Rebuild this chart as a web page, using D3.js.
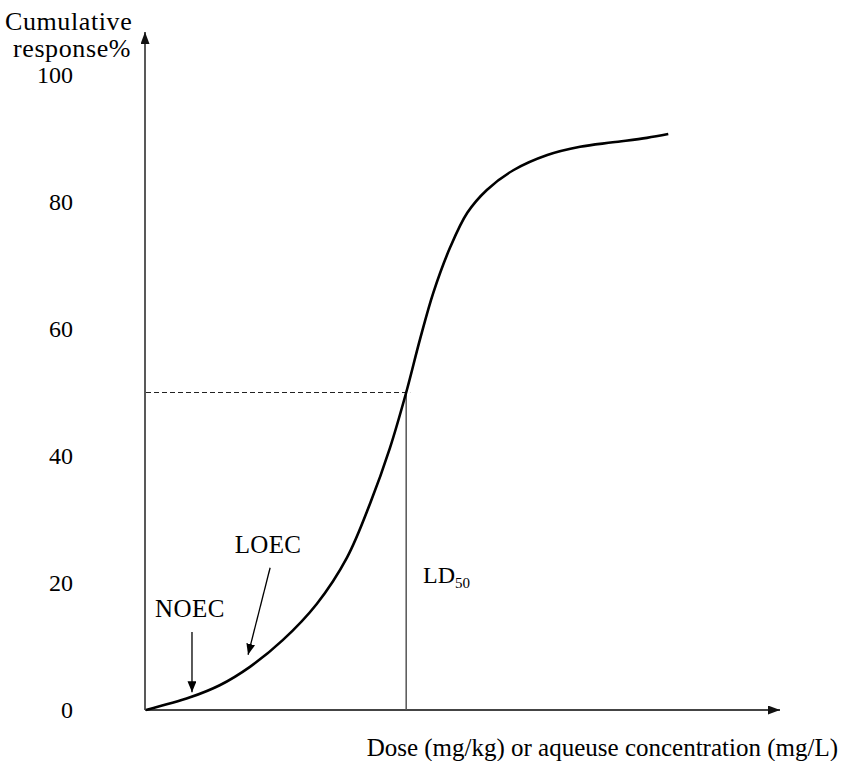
<!DOCTYPE html>
<html>
<head>
<meta charset="utf-8">
<script src="https://cdn.jsdelivr.net/npm/d3@7"></script>
<style>
  body { margin: 0; background: #fff; }
  text { font-family: "Liberation Serif", "Times New Roman", serif; fill: #000; }
</style>
</head>
<body>
<svg id="chart" width="842" height="761"></svg>
<script>
// dose-response curve (dose in arbitrary units 0-100, response in %)
var dose     = [0, 7.0, 11.7, 16.5, 21.7, 27.1, 31.9, 35.6, 38.7, 41.3, 43.5, 45.6, 48.3, 51.0, 54.1, 58.3, 63.7, 68.9, 74.1, 79.5, 82.9]
var response = [0, 2.0, 3.9, 6.8, 11.0, 16.7, 24.0, 32.6, 41.2, 50.0, 58.4, 65.7, 72.9, 78.3, 81.9, 85.0, 87.4, 88.7, 89.4, 90.1, 90.7]
var yTicks = [0, 20, 40, 60, 80, 100]

var ld50Dose = 41.3
var ld50Response = 50

// annotation arrows: [dose, response] of start and tip
var noecArrow = [[7.3, 12.3], [7.3, 2.8]]
var loecArrow = [[19.7, 22.4], [16.2, 8.7]]

var svg = d3.select("#chart")

var x = d3.scaleLinear().domain([0, 100]).range([146, 776])
var y = d3.scaleLinear().domain([0, 100]).range([710, 75])

// arrowheads
var defs = svg.append("defs")
function arrowMarker(id, len, wid, fill) {
  defs.append("marker")
    .attr("id", id)
    .attr("markerUnits", "userSpaceOnUse")
    .attr("viewBox", "0 0 " + len + " " + wid)
    .attr("markerWidth", len).attr("markerHeight", wid)
    .attr("refX", len).attr("refY", wid / 2)
    .attr("orient", "auto")
    .append("path")
    .attr("d", "M0,0L" + len + "," + (wid / 2) + "L0," + wid + "Z")
    .attr("fill", fill)
}
arrowMarker("axisHead", 12, 9, "#111")
arrowMarker("noteHead", 11, 9, "#000")

// axes with arrows
svg.append("line")
  .attr("x1", x(0) - 1).attr("y1", y(0))
  .attr("x2", 145).attr("y2", 32)
  .attr("stroke", "#222").attr("stroke-width", 1.5)
  .attr("marker-end", "url(#axisHead)")
svg.append("line")
  .attr("x1", x(0) - 1).attr("y1", y(0))
  .attr("x2", 780).attr("y2", y(0))
  .attr("stroke", "#444").attr("stroke-width", 1.8)
  .attr("marker-end", "url(#axisHead)")

// y tick labels
var yAxis = svg.append("g")
  .attr("transform", "translate(73,0)")
  .call(d3.axisLeft(y).tickValues(yTicks).tickSize(0).tickPadding(0))
yAxis.select(".domain").remove()
yAxis.selectAll("text")
  .attr("font-size", 24)
  .attr("fill", "#000")

// LD50 guide lines
svg.append("line")
  .attr("x1", x(0)).attr("y1", y(ld50Response))
  .attr("x2", x(ld50Dose) + 4).attr("y2", y(ld50Response))
  .attr("stroke", "#222").attr("stroke-width", 1)
  .attr("stroke-dasharray", "5,3")
svg.append("line")
  .attr("x1", x(ld50Dose)).attr("y1", y(ld50Response))
  .attr("x2", x(ld50Dose)).attr("y2", y(0))
  .attr("stroke", "#555").attr("stroke-width", 1.5)

// the curve
var line = d3.line()
  .x(function(d, i) { return x(dose[i]) })
  .y(function(d, i) { return y(response[i]) })
  .curve(d3.curveCatmullRom.alpha(0.5))
svg.append("path")
  .datum(dose)
  .attr("d", line)
  .attr("fill", "none")
  .attr("stroke", "#000")
  .attr("stroke-width", 2.6)

// NOEC / LOEC arrows
;[noecArrow, loecArrow].forEach(function(a) {
  svg.append("line")
    .attr("x1", x(a[0][0])).attr("y1", y(a[0][1]))
    .attr("x2", x(a[1][0])).attr("y2", y(a[1][1]))
    .attr("stroke", "#000").attr("stroke-width", 1.3)
    .attr("marker-end", "url(#noteHead)")
})

// labels
svg.append("text").attr("x", 190).attr("y", 617).attr("text-anchor", "middle")
  .attr("font-size", 25).attr("letter-spacing", 0.5).text("NOEC")
svg.append("text").attr("x", 268).attr("y", 553).attr("text-anchor", "middle")
  .attr("font-size", 25).attr("letter-spacing", 0.3).text("LOEC")

var ld = svg.append("text").attr("x", 423).attr("y", 583).attr("font-size", 24)
ld.append("tspan").text("LD")
ld.append("tspan").attr("font-size", 15).attr("dy", 5).text("50")

svg.append("text").attr("x", 5).attr("y", 30).attr("font-size", 26)
  .attr("letter-spacing", 0.6).text("Cumulative")
svg.append("text").attr("x", 13).attr("y", 57).attr("font-size", 26)
  .attr("letter-spacing", 0.6).text("response%")

svg.append("text").attr("x", 838).attr("y", 756).attr("text-anchor", "end")
  .attr("font-size", 25).text("Dose (mg/kg) or aqueuse concentration (mg/L)")
</script>
</body>
</html>
